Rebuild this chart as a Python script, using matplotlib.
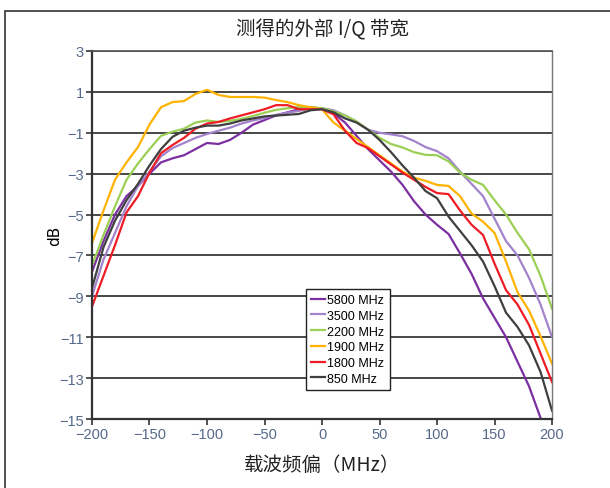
import matplotlib
matplotlib.use('Agg')
import matplotlib.pyplot as plt
import numpy as np
from matplotlib.patches import Rectangle

plt.rcParams['font.family'] = ['Noto Sans CJK SC', 'DejaVu Sans']

# frequency offset (MHz)
offset = np.arange(-200, 201, 10)

db_5800 = [-7.8, -6.3, -5.0, -4.1, -3.6, -3.0, -2.45, -2.25, -2.1, -1.8, -1.5,
           -1.55, -1.35, -1.0, -0.6, -0.38, -0.15, 0.0, 0.15, 0.25, 0.18,
           -0.05, -0.5, -1.15, -1.8, -2.35, -2.9, -3.55, -4.35, -5.0, -5.5,
           -5.95, -6.9, -7.9, -9.1, -10.05, -11.0, -12.2, -13.4, -14.95, np.nan]
db_3500 = [-9.0, -7.2, -5.9, -4.6, -3.6, -2.9, -2.15, -1.75, -1.5, -1.25, -1.06,
           -0.9, -0.75, -0.55, -0.4, -0.28, -0.12, -0.02, 0.07, 0.2, 0.2,
           0.1, -0.15, -0.45, -0.85, -1.0, -1.08, -1.17, -1.4, -1.7, -1.9,
           -2.25, -2.9, -3.5, -4.1, -5.2, -6.3, -7.0, -8.1, -9.4, -11.0]
db_2200 = [-7.5, -6.0, -4.6, -3.3, -2.5, -1.8, -1.15, -0.95, -0.8, -0.5, -0.4,
           -0.47, -0.42, -0.32, -0.18, -0.02, 0.12, 0.2, 0.26, 0.25, 0.2,
           0.05, -0.15, -0.45, -0.85, -1.25, -1.55, -1.72, -1.95, -2.08, -2.1,
           -2.4, -2.95, -3.3, -3.55, -4.3, -5.0, -5.9, -6.7, -8.0, -9.6]
db_1900 = [-6.4, -4.8, -3.3, -2.45, -1.7, -0.6, 0.25, 0.5, 0.55, 0.9, 1.1,
           0.85, 0.75, 0.75, 0.75, 0.72, 0.6, 0.5, 0.35, 0.25, 0.15,
           -0.5, -0.9, -1.3, -1.7, -2.1, -2.5, -2.9, -3.2, -3.35, -3.55,
           -3.6, -4.1, -4.95, -5.35, -5.9, -7.3, -8.8, -9.7, -10.95, -12.3]
db_1800 = [-9.5, -8.0, -6.5, -4.9, -4.1, -2.95, -2.0, -1.6, -1.25, -0.8, -0.55,
           -0.47, -0.3, -0.15, 0.0, 0.15, 0.35, 0.35, 0.15, 0.15, 0.15,
           -0.1, -0.9, -1.5, -1.75, -2.15, -2.55, -2.95, -3.3, -3.65, -3.95,
           -4.0, -4.8, -5.5, -6.0, -7.4, -8.7, -9.4, -10.4, -11.8, -13.2]
db_850 = [-8.6, -6.6, -5.3, -4.3, -3.5, -2.6, -1.8, -1.2, -0.9, -0.75, -0.65,
          -0.65, -0.55, -0.4, -0.3, -0.2, -0.16, -0.12, -0.08, 0.1, 0.15,
          0.0, -0.3, -0.5, -0.85, -1.35, -1.95, -2.6, -3.2, -3.85, -4.2,
          -5.1, -5.8, -6.5, -7.3, -8.5, -9.8, -10.5, -11.4, -12.7, -14.6]

labels = ['5800 MHz', '3500 MHz', '2200 MHz', '1900 MHz', '1800 MHz', '850 MHz']
series = [db_5800, db_3500, db_2200, db_1900, db_1800, db_850]
colors = ['#7b2fa0', '#a383cc', '#9bcf55', '#ffb300', '#ee1c25', '#3f3f3f']

yticks = np.arange(3, -16, -2)
xticks = np.arange(-200, 201, 50)

fig = plt.figure(figsize=(6.1, 4.89), dpi=100)
ax = fig.add_axes([0.1508, 0.1411, 0.7542, 0.7526])

for y, c, lab in zip(series, colors, labels):
    ax.plot(offset, y, color=c, lw=1.6, label=lab)

ax.set_xlim(-200, 200)
ax.set_ylim(-15, 3)
ax.set_xticks(xticks)
ax.set_yticks(yticks)
ax.yaxis.grid(True, color='#383838', lw=1.3)
ax.set_axisbelow(True)

tick_font = ['Liberation Sans Narrow', 'Liberation Sans', 'DejaVu Sans']
for t in ax.get_xticklabels() + ax.get_yticklabels():
    t.set_family(tick_font)
    t.set_fontsize(10.5)
    t.set_color('#56698a')
ax.tick_params(direction='out', length=4, width=1.2, color='#333333', pad=2)

ax.spines['left'].set_linewidth(1.6)
ax.spines['bottom'].set_linewidth(1.6)
ax.spines['left'].set_color('#333333')
ax.spines['bottom'].set_color('#333333')
ax.spines['top'].set_color('#555555')
ax.spines['right'].set_color('#777777')
ax.spines['top'].set_linewidth(1.2)
ax.spines['right'].set_linewidth(1.0)

ax.set_ylabel('dB', fontsize=11, family=['DejaVu Sans'])
ax.yaxis.set_label_coords(-0.065, 0.5)
ax.set_xlabel('载波频偏（MHz）', fontsize=14, color='#222222', labelpad=9)
ax.set_title('测得的外部 I/Q 带宽', fontsize=14, color='#222222', pad=12)

leg = ax.legend(loc='upper left', bbox_to_anchor=(0.452, 0.37),
                handlelength=1.1, handletextpad=0.2, labelspacing=0.3,
                borderpad=0.4, fancybox=False, framealpha=1,
                prop={'family': tick_font, 'size': 9})
leg.get_frame().set_edgecolor('#222222')
leg.get_frame().set_linewidth(1.0)

# outer frame around the chart
fig.patches.append(Rectangle((5 / 610, -0.05), 1.2, 1.05 - 12 / 489, fill=False,
                             edgecolor='#333333', lw=1.2,
                             transform=fig.transFigure, figure=fig))

fig.savefig('out.png', dpi=100)
